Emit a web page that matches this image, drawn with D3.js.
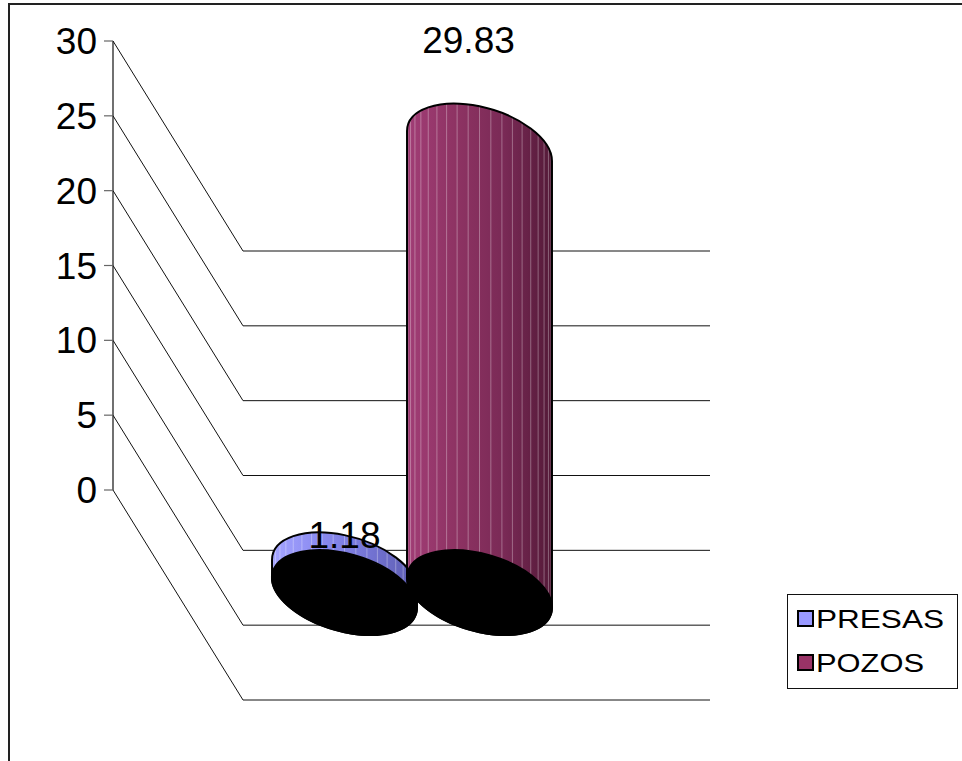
<!DOCTYPE html>
<html>
<head>
<meta charset="utf-8">
<script src="https://cdn.jsdelivr.net/npm/d3@7"></script>
<style>
  html, body { margin: 0; padding: 0; background: #fff; }
  svg { display: block; }
  text { font-family: "Liberation Sans", Arial, sans-serif; }
</style>
</head>
<body>
<svg id="chart" width="962" height="761"></svg>
<script>
// Series data
const categories = ["PRESAS", "POZOS"];
const values = [1.18, 29.83];
const valueLabels = ["1.18", "29.83"];
const seriesColors = ["#9999FF", "#993366"];
// Shading stops across each cylinder, left (lit) to right (shadow)
const shadeStops = [
  ["#a4a4ff", "#8a8af0", "#7474d4", "#5c5cb0"],
  ["#a13d76", "#8e3363", "#7a2a56", "#541938"]
];
const yTicks = [0, 5, 10, 15, 20, 25, 30];

const svg = d3.select("#chart");
const defs = svg.append("defs");

// Outer chart frame
svg.append("rect")
  .attr("x", 9).attr("y", 4).attr("width", 1000).attr("height", 1000)
  .attr("fill", "none").attr("stroke", "#222").attr("stroke-width", 2);

// Scales
const y = d3.scaleLinear().domain([0, 30]).range([490, 41]);
const x = d3.scalePoint().domain(categories).range([344.5, 479.5]);

const axisX = 113;
const wallDX = 130, wallDY = 210, wallRight = 710;

// Gridlines: diagonal from each tick on the axis, then across the back
const grid = svg.append("g").attr("stroke", "#111").attr("stroke-width", 1).attr("fill", "none");
yTicks.forEach(t => {
  const y0 = y(t);
  grid.append("path")
    .attr("d", `M${axisX},${y0}L${axisX + wallDX},${y0 + wallDY}L${wallRight},${y0 + wallDY}`);
});

// Value axis
const axis = svg.append("g");
axis.append("line")
  .attr("x1", axisX).attr("x2", axisX)
  .attr("y1", y(30)).attr("y2", y(0))
  .attr("stroke", "#111").attr("stroke-width", 1.2);
axis.selectAll("line.tick").data(yTicks).join("line")
  .attr("class", "tick")
  .attr("x1", axisX - 9).attr("x2", axisX)
  .attr("y1", d => y(d)).attr("y2", d => y(d))
  .attr("stroke", "#666").attr("stroke-width", 1.2);
axis.selectAll("text").data(yTicks).join("text")
  .attr("x", 97).attr("y", d => y(d) + 13)
  .attr("text-anchor", "end")
  .attr("font-size", 37)
  .attr("fill", "#000")
  .text(d => d);

// Cylinder geometry: rotated ellipse for caps
const ea = 74.6, eb = 38.6, rotDeg = 16.1;
const th = rotDeg * Math.PI / 180;
const EX = Math.sqrt(ea * ea * Math.cos(th) ** 2 + eb * eb * Math.sin(th) ** 2);
const ED = (ea * ea - eb * eb) * Math.sin(th) * Math.cos(th) / EX;
const depthOffset = 102.5;
const facets = 20;

categories.forEach((cat, i) => {
  const cx = x(cat);
  const yt = y(values[i]) + depthOffset;
  const yb = y(0) + depthOffset;

  const gid = "shade" + i;
  const grad = defs.append("linearGradient").attr("id", gid)
    .attr("x1", "0%").attr("x2", "100%").attr("y1", "0%").attr("y2", "0%");
  shadeStops[i].forEach((c, k, arr) => {
    grad.append("stop").attr("offset", (k / (arr.length - 1)) * 100 + "%").attr("stop-color", c);
  });

  const bodyPath =
    `M${cx - EX},${yt - ED}` +
    `A${ea},${eb} ${rotDeg} 0 1 ${cx + EX},${yt + ED}` +
    `L${cx + EX},${yb + ED}` +
    `A${ea},${eb} ${rotDeg} 0 1 ${cx - EX},${yb - ED}Z`;

  const cid = "clip" + i;
  defs.append("clipPath").attr("id", cid).append("path").attr("d", bodyPath);

  const g = svg.append("g");
  g.append("path").attr("d", bodyPath).attr("fill", `url(#${gid})`);

  // Facet edges of the cylinder surface
  const fx = d3.range(1, facets).map(k => cx - EX * Math.cos(Math.PI * k / facets));
  g.append("g").attr("clip-path", `url(#${cid})`)
    .selectAll("line").data(fx).join("line")
    .attr("x1", d => d).attr("x2", d => d)
    .attr("y1", yt - 60).attr("y2", yb + 60)
    .attr("stroke", "#fff").attr("stroke-opacity", 0.32).attr("stroke-width", 1);

  g.append("path").attr("d", bodyPath)
    .attr("fill", "none").attr("stroke", "#000").attr("stroke-width", 2);

  // Base cap
  g.append("ellipse")
    .attr("rx", ea).attr("ry", eb)
    .attr("transform", `translate(${cx},${yb}) rotate(${rotDeg})`)
    .attr("fill", "#000").attr("stroke", "#000").attr("stroke-width", 2);
});

// Value labels
svg.append("g").selectAll("text").data(categories).join("text")
  .attr("x", (d, i) => i === 0 ? x(d) : x(d) - 11)
  .attr("y", (d, i) => i === 0 ? 548 : 53)
  .attr("text-anchor", "middle")
  .attr("font-size", 37)
  .attr("fill", "#000")
  .text((d, i) => valueLabels[i]);

// Legend
const legend = svg.append("g");
legend.append("rect")
  .attr("x", 787.5).attr("y", 594.5).attr("width", 170).attr("height", 94)
  .attr("fill", "#fff").attr("stroke", "#111").attr("stroke-width", 1);
const rows = legend.selectAll("g.item").data(categories).join("g")
  .attr("class", "item")
  .attr("transform", (d, i) => `translate(0,${i * 44})`);
rows.append("rect")
  .attr("x", 798).attr("y", 611).attr("width", 15).attr("height", 15)
  .attr("fill", (d, i) => seriesColors[i]).attr("stroke", "#000").attr("stroke-width", 2);
rows.append("text")
  .attr("x", 816).attr("y", 628)
  .attr("font-size", 26)
  .attr("textLength", (d, i) => i === 0 ? 128 : 108)
  .attr("lengthAdjust", "spacingAndGlyphs")
  .attr("fill", "#000")
  .text(d => d);
</script>
</body>
</html>
